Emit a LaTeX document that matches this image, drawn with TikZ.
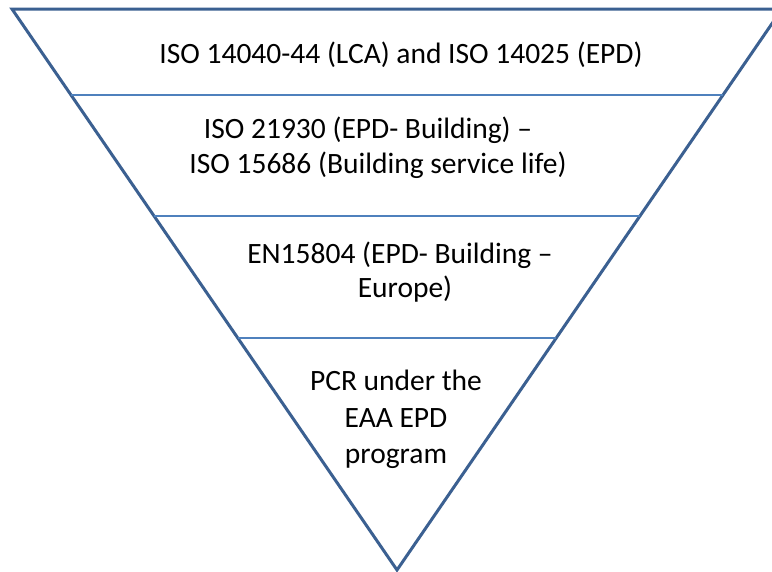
\documentclass[tikz,border=0pt]{standalone}
\usepackage{fontspec}
\setmainfont{Carlito}
\usetikzlibrary{calc}
\definecolor{edgeblue}{RGB}{59,96,145}
\definecolor{lineblue}{RGB}{79,129,189}
\begin{document}
\begin{tikzpicture}[x=1pt,y=-1pt,
  edge/.style={draw=edgeblue,line width=3pt,line join=miter},
  level/.style={draw=lineblue,line width=2pt},
  lbl/.style={font=\fontsize{29.5}{35}\selectfont,anchor=base,inner sep=0pt,text=black}]
\useasboundingbox (0,0) rectangle (772,571);
\clip (0,0) rectangle (772,571);
\fill[white] (0,0) rectangle (772,571);
\coordinate (tl) at (12,9);
\coordinate (tr) at (782,9);
\coordinate (ap) at (397,570);
\draw[edge] (tl) -- (tr) -- (ap) -- cycle;
\coordinate (l1) at ($(tl)!0.1533!(ap)$);
\coordinate (r1) at ($(tr)!0.1533!(ap)$);
\coordinate (l2) at ($(tl)!0.369!(ap)$);
\coordinate (r2) at ($(tr)!0.369!(ap)$);
\coordinate (l3) at ($(tl)!0.5865!(ap)$);
\coordinate (r3) at ($(tr)!0.5865!(ap)$);
\draw[level] (l1) -- (r1);
\draw[level] (l2) -- (r2);
\draw[level] (l3) -- (r3);
\node[lbl] (t1) at (401,63) {ISO 14040-44 (LCA) and ISO 14025 (EPD)};
\node[lbl] (t2a) at (368,138) {ISO 21930 (EPD- Building) –};
\node[lbl] (t2b) at (378,173) {ISO 15686 (Building service life)};
\node[lbl] (t3a) at (400,263) {EN15804 (EPD- Building –};
\node[lbl] (t3b) at (405,297) {Europe)};
\node[lbl] (t4a) at (396,390) {PCR under the};
\node[lbl] (t4b) at (396,427) {EAA EPD};
\node[lbl] (t4c) at (396,463) {program};
\end{tikzpicture}
\end{document}
